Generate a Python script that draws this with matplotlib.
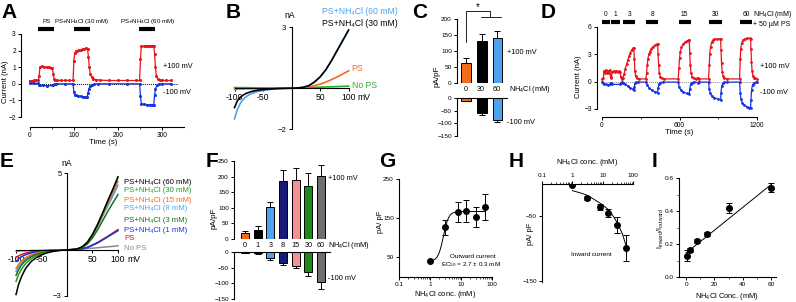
import matplotlib
matplotlib.use('Agg')
import matplotlib.pyplot as plt
import numpy as np

plt.rcParams['font.family'] = ['Liberation Sans', 'DejaVu Sans']
plt.rcParams['mathtext.fontset'] = 'custom'
plt.rcParams['mathtext.rm'] = 'Liberation Sans'
plt.rcParams['mathtext.it'] = 'Liberation Sans:italic'
plt.rcParams['mathtext.bf'] = 'Liberation Sans:bold'

# ---------------- DATA ----------------
# Panel A: time course (s, nA)
tA_pos = [0, 5, 10, 15, 19, 21, 23, 28, 33, 38, 43, 48, 51, 53, 55, 58, 62, 70, 80, 90, 98, 100, 102, 104, 108,
          112, 116, 120, 124, 128, 131, 133, 135, 137, 140, 144, 150, 160, 180, 200, 220, 240, 249, 251, 253,
          258, 263, 268, 273, 278, 281, 283, 285, 287, 290, 295, 300, 310, 320]
iA_pos = [0.18, 0.18, 0.2, 0.2, 0.2, 0.45, 1.0, 1.05, 1.0, 1.0, 1.0, 0.97, 0.95, 0.6, 0.3, 0.22, 0.2, 0.2, 0.2,
          0.2, 0.2, 1.4, 1.85, 1.95, 2.0, 2.05, 2.05, 2.1, 2.1, 2.15, 2.1, 1.6, 1.0, 0.6, 0.4, 0.3, 0.25, 0.22,
          0.2, 0.2, 0.2, 0.2, 0.2, 1.5, 2.25, 2.25, 2.3, 2.3, 2.3, 2.3, 2.3, 1.8, 1.0, 0.5, 0.3, 0.22, 0.2, 0.2,
          0.2]
tA_neg = [0, 10, 19, 21, 23, 30, 40, 50, 53, 56, 60, 80, 98, 100, 102, 105, 110, 115, 120, 125, 130, 132, 134,
          137, 140, 145, 155, 180, 220, 249, 251, 253, 258, 265, 272, 278, 281, 283, 285, 288, 292, 300, 320]
iA_neg = [0.02, 0.02, 0.02, -0.05, -0.1, -0.1, -0.12, -0.1, -0.05, 0, 0, 0, 0, -0.5, -0.65, -0.7, -0.72, -0.75,
          -0.78, -0.8, -0.8, -0.55, -0.3, -0.15, -0.08, -0.03, 0, 0, 0, 0, -0.72, -1.2, -1.22, -1.25, -1.25,
          -1.28, -1.3, -0.7, -0.3, -0.1, -0.03, 0, 0]
A_bar_labels = ['PS', 'PS+NH$_\\mathregular{4}$Cl (30 mM)', 'PS+NH$_\\mathregular{4}$Cl (60 mM)']
A_bar_start = [19, 100, 248]
A_bar_end = [55, 136, 284]

# Panel B: I-V curves (mV, nA)
vB = [-100, -95, -90, -85, -80, -70, -60, -50, -40, -30, -20, -10, 0, 10, 20, 30, 40, 50, 60, 70, 80, 90, 100]
iB_60 = [-1.5, -1.05, -0.75, -0.55, -0.42, -0.26, -0.17, -0.11, -0.07, -0.04, -0.02, -0.01, 0, 0.01, 0.04,
         0.12, 0.3, 0.55, 0.9, 1.35, 1.85, 2.35, 2.85]
iB_30 = [-0.95, -0.62, -0.45, -0.34, -0.26, -0.16, -0.1, -0.07, -0.045, -0.025, -0.012, -0.005, 0, 0.01, 0.04,
         0.12, 0.3, 0.55, 0.9, 1.35, 1.85, 2.35, 2.85]
iB_ps = [-0.05, -0.045, -0.04, -0.035, -0.03, -0.025, -0.02, -0.015, -0.01, -0.007, -0.004, -0.002, 0, 0.01,
         0.03, 0.06, 0.12, 0.2, 0.3, 0.42, 0.55, 0.7, 0.85]
iB_none = [0.03, 0.03, 0.03, 0.025, 0.025, 0.02, 0.015, 0.012, 0.01, 0.007, 0.005, 0.002, 0, 0.01, 0.02, 0.03,
           0.04, 0.05, 0.06, 0.07, 0.08, 0.09, 0.1]
B_labels = ['PS+NH\u2084Cl (60 mM)', 'PS+NH\u2084Cl (30 mM)', 'PS', 'No PS']

# Panel C: current density (pA/pF)
C_conc = ['0', '30', '60']
C_pos = [62, 131, 141]
C_pos_err = [15, 22, 20]
C_neg = [-10, -58, -85]
C_neg_err = [3, 8, 10]

# Panel D: time course (s, nA)
tD_pos = [0, 10, 15, 22, 30, 38, 45, 52, 60, 66, 72, 78, 90, 100, 110, 120, 130, 140, 146, 152, 160, 170, 180,
          190, 200, 210, 220, 230, 240, 246, 250, 254, 260, 270, 285, 340, 345, 350, 355, 362, 370, 380, 395,
          410, 425, 430, 434, 438, 444, 452, 465, 480, 590, 595, 600, 606, 615, 625, 640, 655, 670, 675, 679,
          683, 690, 698, 710, 730, 740, 748, 825, 830, 834, 840, 848, 858, 870, 890, 910, 918, 921, 925, 930,
          938, 948, 965, 1065, 1070, 1074, 1080, 1090, 1105, 1125, 1145, 1150, 1153, 1157, 1162, 1168, 1175,
          1185, 1200]
iD_pos = [0.3, 0.35, 1.2, 0.9, 1.3, 1.0, 1.2, 0.9, 1.25, 0.5, 0.4, 1.1, 1.15, 1.1, 1.2, 1.1, 1.15, 1.1, 0.5,
          0.3, 0.35, 0.8, 1.4, 1.9, 2.4, 2.8, 3.2, 3.5, 3.65, 3.7, 2.5, 1.2, 0.6, 0.4, 0.3, 0.3, 1.0, 1.8, 2.5,
          3.0, 3.3, 3.6, 3.85, 4.0, 4.1, 4.15, 3.0, 1.8, 0.9, 0.5, 0.35, 0.3, 0.3, 1.5, 2.6, 3.3, 3.8, 4.1, 4.3,
          4.45, 4.55, 4.55, 3.2, 1.8, 0.9, 0.5, 0.35, 0.3, 0.45, 0.3, 0.3, 1.8, 3.0, 3.8, 4.3, 4.55, 4.65, 4.7,
          4.7, 4.7, 3.5, 2.0, 1.1, 0.6, 0.4, 0.3, 0.3, 2.5, 3.6, 4.2, 4.55, 4.7, 4.75, 4.75, 4.7, 3.6, 2.2, 1.2,
          0.6, 0.4, 0.35, 0.3]
tD_neg = [0, 10, 15, 30, 45, 60, 66, 72, 78, 140, 146, 155, 165, 180, 200, 220, 240, 246, 250, 256, 265, 280,
          340, 350, 365, 385, 410, 430, 434, 440, 450, 470, 590, 598, 610, 630, 655, 675, 679, 686, 695, 710,
          740, 748, 825, 830, 838, 850, 870, 895, 918, 921, 926, 935, 948, 965, 1065, 1070, 1075, 1085, 1100,
          1120, 1140, 1150, 1153, 1158, 1165, 1175, 1190, 1200]
iD_neg = [-0.05, -0.1, -0.3, -0.3, -0.35, -0.3, -0.15, -0.15, -0.3, -0.3, -0.15, -0.05, -0.1, -0.3, -0.5, -0.7,
          -0.85, -0.9, -0.6, -0.2, -0.08, -0.05, -0.05, -0.4, -0.7, -0.95, -1.1, -1.2, -0.7, -0.25, -0.1, -0.05,
          -0.05, -0.6, -0.95, -1.15, -1.3, -1.4, -0.8, -0.3, -0.1, -0.05, -0.1, -0.05, -0.05, -0.8, -1.3, -1.55,
          -1.75, -1.9, -2.0, -1.3, -0.5, -0.2, -0.08, -0.05, -0.05, -1.2, -1.9, -2.3, -2.55, -2.75, -2.85, -2.9,
          -2.0, -0.9, -0.35, -0.15, -0.08, -0.05]
D_labels = ['0', '1', '3', '8', '15', '30', '60']
D_bar_start = [0, 70, 163, 343, 592, 826, 1067]
D_bar_end = [62, 140, 257, 436, 685, 927, 1161]

# Panel E: I-V curves (mV, nA)
vE = [-100, -95, -90, -85, -80, -70, -60, -50, -40, -30, -20, -10, 0, 10, 20, 30, 40, 50, 60, 70, 80, 90, 100]
iE_60 = [-2.9, -2.25, -1.8, -1.45, -1.15, -0.75, -0.5, -0.33, -0.2, -0.12, -0.06, -0.02, 0, 0.02, 0.06, 0.2,
         0.5, 1.0, 1.65, 2.4, 3.2, 3.95, 4.75]
iE_30 = [-2.05, -1.6, -1.3, -1.05, -0.85, -0.57, -0.38, -0.25, -0.15, -0.09, -0.045, -0.015, 0, 0.02, 0.06,
         0.2, 0.5, 1.0, 1.65, 2.4, 3.15, 3.9, 4.7]
iE_15 = [-1.2, -0.95, -0.75, -0.6, -0.48, -0.32, -0.21, -0.14, -0.09, -0.05, -0.025, -0.01, 0, 0.02, 0.06,
         0.19, 0.48, 0.97, 1.6, 2.3, 3.0, 3.7, 4.45]
iE_8 = [-1.4, -1.1, -0.88, -0.7, -0.56, -0.37, -0.25, -0.16, -0.1, -0.06, -0.03, -0.01, 0, 0.02, 0.06, 0.18,
        0.46, 0.93, 1.5, 2.2, 2.85, 3.5, 4.2]
iE_3 = [-1.65, -1.3, -1.02, -0.82, -0.66, -0.44, -0.29, -0.19, -0.12, -0.07, -0.035, -0.012, 0, 0.02, 0.05,
        0.15, 0.38, 0.78, 1.3, 1.9, 2.5, 3.05, 3.6]
iE_1 = [-0.75, -0.58, -0.46, -0.37, -0.3, -0.2, -0.13, -0.09, -0.06, -0.035, -0.018, -0.006, 0, 0.01, 0.03,
        0.07, 0.15, 0.3, 0.45, 0.65, 0.85, 1.05, 1.25]
iE_ps = [-0.5, -0.39, -0.31, -0.25, -0.2, -0.13, -0.09, -0.06, -0.04, -0.025, -0.012, -0.004, 0, 0.01, 0.03,
         0.08, 0.17, 0.32, 0.48, 0.68, 0.88, 1.1, 1.32]
iE_none = [-0.08, -0.075, -0.07, -0.065, -0.06, -0.05, -0.04, -0.03, -0.025, -0.018, -0.012, -0.006, 0, 0.02,
           0.04, 0.06, 0.09, 0.11, 0.14, 0.17, 0.2, 0.23, 0.27]
E_labels = ['PS+NH\u2084Cl (60 mM)', 'PS+NH\u2084Cl (30 mM)', 'PS+NH\u2084Cl (15 mM)', 'PS+NH\u2084Cl (8 mM)',
            'PS+NH\u2084Cl (3 mM)', 'PS+NH\u2084Cl (1 mM)', 'PS', 'No PS']

# Panel F: current density (pA/pF)
F_conc = ['0', '1', '3', '8', '15', '30', '60']
F_pos = [20, 28, 103, 187, 188, 170, 202]
F_pos_err = [5, 15, 15, 33, 38, 41, 35]
F_neg = [-3, -4, -20, -35, -45, -63, -97]
F_neg_err = [1, 1, 5, 5, 6, 12, 20]

# Panels G, H, I: concentration dependence
conc = [1, 3, 8, 15, 30, 60]
G_out = [40, 127, 166, 168, 153, 179]
G_err = [0, 19, 25, 28, 26, 33]
G_bottom, G_top, G_ec50, G_hill = 40, 167, 2.7, 5.0
H_in = [-2, -22, -36, -45, -64, -99]
H_err = [0, 3, 5, 6, 12, 20]
H_fit_c = [1, 2, 3, 5, 8, 12, 15, 20, 30, 45, 60]
H_fit_v = [-11, -15, -18, -24, -30, -36, -40, -47, -60, -78, -97]
I_ratio = [0.13, 0.165, 0.218, 0.26, 0.418, 0.542]
I_err = [0.035, 0.012, 0.01, 0.01, 0.028, 0.025]
I_fit_c = [0, 60]
I_fit_v = [0.145, 0.56]

# ---------------- STYLE ----------------
RED = '#E8141C'
BLUE = '#1433E6'
ORANGE = '#F26A1B'
LBLUE = '#4DA3F0'
BGREEN = '#2EAA2E'
GREEN = '#239B23'
DGREEN = '#1A6E1A'
NAVY = '#161A78'
PINK = '#F59090'
GRAY = '#6E6E6E'
LGRAY = '#8A8A8A'

W, H = 796, 302
fig = plt.figure(figsize=(W / 100, H / 100), dpi=100)
TS = 4.8   # tick label size
LS = 6.2   # label size
SS = 5.3   # small text
NH4 = 'NH$_\\mathregular{4}$Cl'


def axpx(x0, y0, x1, y1):
    ax = fig.add_axes([x0 / W, 1 - y1 / H, (x1 - x0) / W, (y1 - y0) / H])
    ax.patch.set_alpha(0)
    return ax


def ftext(x, y, s, **kw):
    kw.setdefault('fontsize', LS)
    kw.setdefault('va', 'center')
    fig.text(x / W, 1 - y / H, s, **kw)


def style(ax, fs=TS):
    for s in ['top', 'right']:
        ax.spines[s].set_visible(False)
    for s in ax.spines.values():
        s.set_linewidth(0.8)
    ax.tick_params(direction='out', length=2.5, width=0.7, labelsize=fs, pad=1.2)
    ax.tick_params(which='minor', length=1.5, width=0.5)


def letter(x, y, s):
    fig.text(x / W, 1 - y / H, s, fontsize=15, fontweight='bold', va='top', ha='left')


# ---------------- A ----------------
axA = axpx(21, 34, 185, 127)
style(axA)
axA.set_xlim(-20, 352)
axA.set_ylim(-2.6, 3)
axA.spines['left'].set_bounds(-2, 3)
axA.spines['bottom'].set_bounds(0, 350)
axA.set_yticks(range(-2, 4))
axA.set_xticks([0, 100, 200, 300])
axA.set_xticks([50, 150, 250], minor=True)
axA.plot([0, 337], [0, 0], ls=(0, (1, 1)), color='k', lw=0.7)
axA.plot(tA_pos, iA_pos, '-o', color=RED, ms=2.2, lw=0.9, mew=0)
axA.plot(tA_neg, iA_neg, '-o', color=BLUE, ms=2.2, lw=0.9, mew=0)
for s, e, lab in zip(A_bar_start, A_bar_end, A_bar_labels):
    axA.plot([s, e], [3.3, 3.3], color='k', lw=3, clip_on=False, solid_capstyle='butt')
    axA.text((s + e) / 2, 3.78, lab, ha='center', va='center', fontsize=4.4, clip_on=False)
ftext(163, 67, '+100 mV', fontsize=SS)
ftext(163, 93, '-100 mV', fontsize=SS)
ftext(103, 142, 'Time (s)', ha='center', fontsize=5.6)
ftext(6, 82, 'Current (nA)', ha='center', rotation=90, fontsize=5.6)
letter(1, 3, 'A')

# ---------------- B ----------------
axB = axpx(232, 27, 352, 129)
style(axB)
axB.set_xlim(-104.4, 106)
axB.set_ylim(-2, 3)
axB.spines['left'].set_position(('data', 0))
axB.spines['bottom'].set_position(('data', 0))
axB.spines['left'].set_bounds(-2, 3)
axB.spines['bottom'].set_bounds(-100, 100)
axB.set_yticks([-2, 3])
axB.set_xticks([-100, -50, 50, 100])
axB.set_xticklabels(['-100', '-50', '50', '100'])
axB.tick_params(axis='x', labelsize=LS)
axB.tick_params(axis='y', labelsize=5.5)
axB.plot(vB, iB_none, color=BGREEN, lw=1.2)
axB.plot(vB, iB_ps, color=ORANGE, lw=1.2)
axB.plot(vB, iB_60, color=LBLUE, lw=1.2)
axB.plot(vB, iB_30, color='k', lw=1.2)
ftext(357, 97, 'mV', ha='left')
ftext(290, 15, 'nA', ha='center')
ftext(322, 12, B_labels[0], color=LBLUE, ha='left')
ftext(322, 23, B_labels[1], color='k', ha='left')
ftext(351, 69, B_labels[2], color=ORANGE, ha='left')
ftext(352, 85, B_labels[3], color=BGREEN, ha='left')
letter(226, 3, 'B')

# ---------------- C ----------------
C_colors = [ORANGE, 'k', LBLUE]
xC = np.arange(len(C_conc))
axC1 = axpx(457, 19, 507, 83)
style(axC1, fs=4.6)
axC1.spines['bottom'].set_visible(False)
axC1.set_xlim(-0.55, 2.6)
axC1.set_ylim(0, 200)
axC1.set_xticks([])
axC1.set_yticks([0, 50, 100, 150, 200])
axC1.bar(xC, C_pos, width=0.62, color=C_colors, edgecolor='k', lw=0.7, zorder=2)
axC1.errorbar(xC, C_pos, yerr=[np.zeros(3), C_pos_err], fmt='none', ecolor='k', elinewidth=0.7, capsize=2.2,
              capthick=0.7, zorder=1)
axC1.plot([0, 0, 1.5, 1.5], [128, 225, 225, 206], color='k', lw=0.6, clip_on=False)
axC1.plot([0.95, 2.2], [206, 206], color='k', lw=0.6, clip_on=False)
axC1.text(0.73, 236, '*', ha='center', va='center', fontsize=7, clip_on=False)

axC2 = axpx(457, 98, 507, 136)
style(axC2, fs=4.6)
axC2.spines['bottom'].set_visible(False)
axC2.spines['top'].set_visible(True)
axC2.set_xlim(-0.55, 2.6)
axC2.set_ylim(-150, 0)
axC2.set_xticks([])
axC2.set_yticks([-150, -100, -50, 0])
axC2.bar(xC, C_neg, width=0.62, color=C_colors, edgecolor='k', lw=0.7, zorder=2)
axC2.errorbar(xC, C_neg, yerr=[C_neg_err, np.zeros(3)], fmt='none', ecolor='k', elinewidth=0.7, capsize=2.2,
              capthick=0.7, zorder=1)
for i, lab in enumerate(C_conc):
    ftext(465.5 + 15.75 * i, 89.5, lab, ha='center', fontsize=5.2)
ftext(509, 89.5, NH4 + ' (mM)', ha='left', fontsize=SS)
ftext(507, 52, '+100 mV', ha='left', fontsize=SS)
ftext(507, 122, '-100 mV', ha='left', fontsize=SS)
ftext(437, 76, 'pA/pF', ha='center', rotation=90, fontsize=5.8)
letter(412, 3, 'C')

# ---------------- D ----------------
axD = axpx(597, 27, 760, 117)
style(axD)
axD.set_xlim(-39, 1223)
axD.set_ylim(-3.88, 6)
axD.spines['left'].set_bounds(-3, 6)
axD.spines['bottom'].set_bounds(0, 1200)
axD.set_yticks([-3, 0, 3, 6])
axD.set_xticks([0, 600, 1200])
axD.set_xticks([300, 900], minor=True)
axD.plot([0, 1200], [0, 0], ls=(0, (1, 1)), color=LGRAY, lw=0.7)
axD.plot(tD_pos, iD_pos, '-o', color=RED, ms=2.0, lw=0.9, mew=0)
axD.plot(tD_neg, iD_neg, '-o', color=BLUE, ms=2.0, lw=0.9, mew=0)
for s, e, lab in zip(D_bar_start, D_bar_end, D_labels):
    axD.plot([s, e], [6.55, 6.55], color='k', lw=3, clip_on=False, solid_capstyle='butt')
    axD.text((s + e) / 2, 7.35, lab, ha='center', va='center', fontsize=TS, clip_on=False)
ftext(753, 15, NH4 + ' (mM)', ha='left', fontsize=5.0)
ftext(753, 25, '+ 50 \u00b5M PS', ha='left', fontsize=5.0)
ftext(760, 67, '+100 mV', ha='left', fontsize=SS)
ftext(760, 93, '-100 mV', ha='left', fontsize=SS)
ftext(679, 133, 'Time (s)', ha='center', fontsize=5.6)
ftext(579, 77, 'Current (nA)', ha='center', rotation=90, fontsize=5.6)
letter(541, 3, 'D')

# ---------------- E ----------------
axE = axpx(14, 173, 120, 296)
style(axE)
axE.set_xlim(-104, 104)
axE.set_ylim(-3, 5)
axE.spines['left'].set_position(('data', 0))
axE.spines['bottom'].set_position(('data', 0))
axE.spines['left'].set_bounds(-3, 5)
axE.spines['bottom'].set_bounds(-100, 100)
axE.set_yticks([-3, 5])
axE.set_xticks([-100, -50, 50, 100])
axE.set_xticklabels(['-100', '-50', '50', '100'])
axE.tick_params(axis='x', labelsize=LS)
axE.tick_params(axis='y', labelsize=5.5)
E_series = [iE_none, iE_ps, iE_1, iE_8, iE_15, iE_3, iE_30, iE_60]
E_cols = [LGRAY, RED, BLUE, LBLUE, ORANGE, DGREEN, GREEN, 'k']
for ser, c in zip(E_series, E_cols):
    axE.plot(vE, ser, color=c, lw=1.1)
ftext(127, 259, 'mV', ha='left')
ftext(67, 163, 'nA', ha='center')
E_leg_cols = ['k', GREEN, ORANGE, LBLUE, DGREEN, BLUE, RED, LGRAY]
E_leg_y = [182, 191, 200, 209, 221, 230, 239, 248]
for lab, c, y in zip(E_labels, E_leg_cols, E_leg_y):
    ftext(124, y, lab, color=c, ha='left', fontsize=5.6)
letter(0, 152, 'E')

# ---------------- F ----------------
F_colors = [ORANGE, 'k', LBLUE, NAVY, PINK, '#1B8A1B', GRAY]
xF = np.arange(len(F_conc))
axF1 = axpx(234, 161, 330, 239)
style(axF1, fs=4.6)
axF1.spines['bottom'].set_visible(False)
axF1.set_xlim(-0.87, 6.71)
axF1.set_ylim(0, 250)
axF1.set_xticks([])
axF1.set_yticks([0, 50, 100, 150, 200, 250])
axF1.bar(xF, F_pos, width=0.63, color=F_colors, edgecolor='k', lw=0.7, zorder=2)
axF1.errorbar(xF, F_pos, yerr=[np.zeros(7), F_pos_err], fmt='none', ecolor='k', elinewidth=0.7, capsize=2.2,
              capthick=0.7, zorder=1)
axF2 = axpx(234, 252, 330, 299)
style(axF2, fs=4.6)
axF2.spines['bottom'].set_visible(False)
axF2.spines['top'].set_visible(True)
axF2.set_xlim(-0.87, 6.71)
axF2.set_ylim(-150, 0)
axF2.set_xticks([])
axF2.set_yticks([-150, -100, -50, 0])
axF2.bar(xF, F_neg, width=0.63, color=F_colors, edgecolor='k', lw=0.7, zorder=2)
axF2.errorbar(xF, F_neg, yerr=[F_neg_err, np.zeros(7)], fmt='none', ecolor='k', elinewidth=0.7, capsize=2.2,
              capthick=0.7, zorder=1)
for i, lab in enumerate(F_conc):
    ftext(245 + 12.67 * i, 245.5, lab, ha='center', fontsize=5.2)
ftext(328, 245.5, NH4 + ' (mM)', ha='left', fontsize=SS)
ftext(328, 178, '+100 mV', ha='left', fontsize=SS)
ftext(328, 279, '-100 mV', ha='left', fontsize=SS)
ftext(214, 218, 'pA/pF', ha='center', rotation=90, fontsize=5.8)
letter(206, 152, 'F')

# ---------------- G ----------------
axG = axpx(399, 179, 492, 277)
style(axG, fs=4.6)
axG.set_xscale('log')
axG.set_xlim(0.1, 100)
axG.set_ylim(0, 250)
axG.set_yticks([50, 150, 250])
axG.set_xticks([0.1, 1, 10, 100])
axG.set_xticklabels(['0.1', '1', '10', '100'])
cfit = np.logspace(0, np.log10(60), 120)
axG.plot(cfit, G_bottom + (G_top - G_bottom) / (1 + (G_ec50 / cfit) ** G_hill), color='k', lw=0.7)
axG.errorbar(conc, G_out, yerr=G_err, fmt='o', color='k', ms=4, elinewidth=0.7, capsize=2.5, capthick=0.7)
axG.text(4.3, 52, 'Outward current', fontsize=4.6, ha='left', va='center')
axG.text(2.3, 32, 'EC$_\\mathregular{50}$ = 2.7 \u00b1 0.3 mM', fontsize=4.6, ha='left', va='center')
ftext(445, 295, NH4 + ' conc. (mM)', ha='center', fontsize=5.4)
ftext(381, 222, 'pA/ pF', ha='center', rotation=90, fontsize=5.4)
letter(379, 152, 'G')

# ---------------- H ----------------
axH = axpx(542, 183.5, 633, 282)
for s in ['bottom', 'right']:
    axH.spines[s].set_visible(False)
for s in axH.spines.values():
    s.set_linewidth(0.8)
axH.tick_params(direction='out', length=2.5, width=0.7, labelsize=4.6, pad=1.2)
axH.tick_params(which='minor', length=1.5, width=0.5)
axH.xaxis.set_ticks_position('top')
axH.set_xscale('log')
axH.set_xlim(0.1, 100)
axH.set_ylim(-152, 0)
axH.set_yticks([-150, -50])
axH.set_xticks([0.1, 1, 10, 100])
axH.set_xticklabels(['0.1', '1', '10', '100'])
axH.plot(H_fit_c, H_fit_v, color='k', lw=0.7)
axH.errorbar(conc, H_in, yerr=H_err, fmt='o', color='k', ms=4, elinewidth=0.7, capsize=2.5, capthick=0.7)
axH.text(0.9, -110, 'Inward current', fontsize=4.6, ha='left', va='center')
ftext(587, 162, NH4 + ' conc. (mM)', ha='center', fontsize=5.4)
ftext(531, 234, 'pA/ pF', ha='center', rotation=90, fontsize=5.4)
letter(509, 152, 'H')

# ---------------- I ----------------
axI = axpx(679, 178, 776, 277)
style(axI, fs=4.6)
axI.set_xlim(-5, 63.5)
axI.set_ylim(0, 0.6)
axI.set_yticks([0.0, 0.2, 0.4, 0.6])
axI.set_yticks([0.1, 0.3, 0.5], minor=True)
axI.set_xticks([0, 20, 40, 60])
axI.set_xticks([10, 30, 50], minor=True)
axI.plot(I_fit_c, I_fit_v, color='k', lw=0.7)
axI.errorbar(conc, I_ratio, yerr=I_err, fmt='o', color='k', ms=4, elinewidth=0.7, capsize=2.5, capthick=0.7)
ftext(727, 296, NH4 + ' Conc. (mM)', ha='center', fontsize=5.4)
ftext(661, 228, 'I$_\\mathregular{inward}$/I$_\\mathregular{outward}$', ha='center', rotation=90, fontsize=5.2)
letter(652, 152, 'I')

fig.savefig('out.png', dpi=100)
